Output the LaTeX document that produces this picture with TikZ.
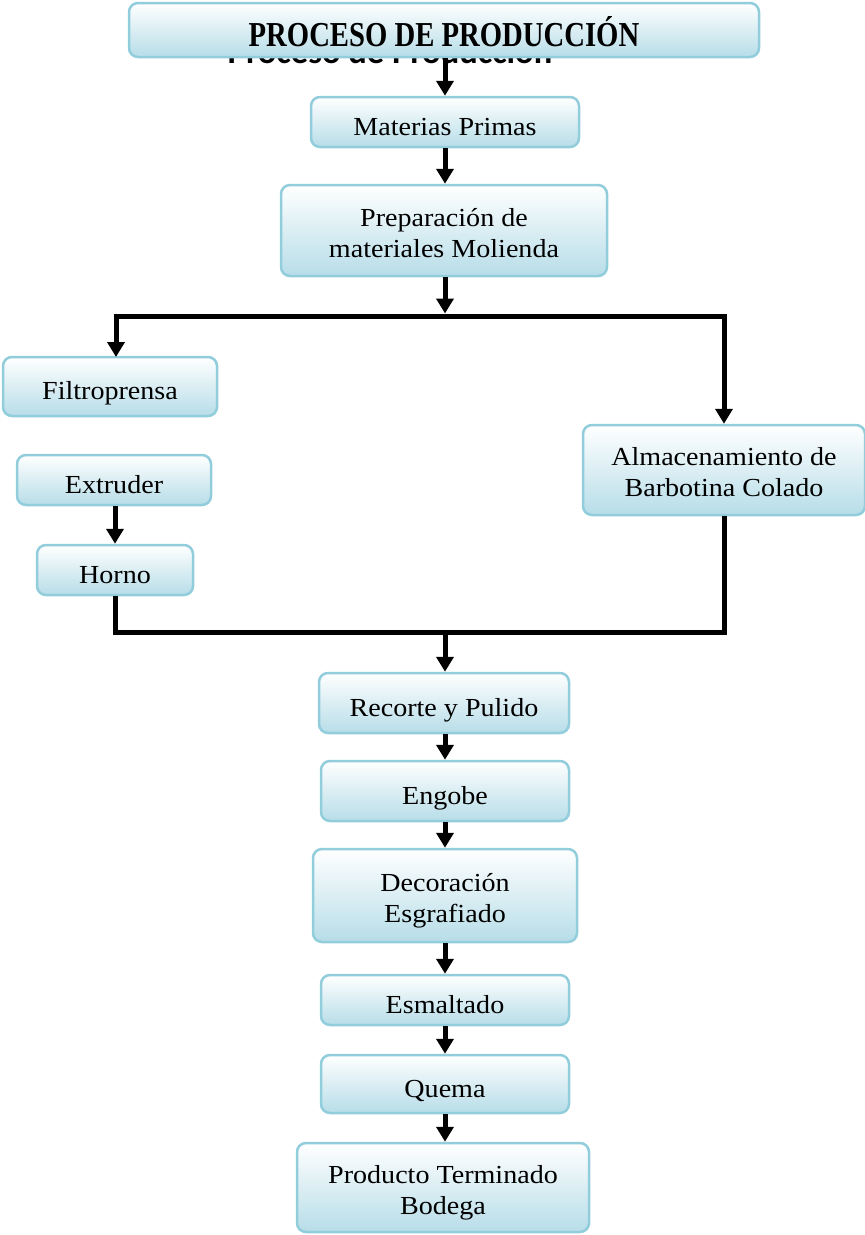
\documentclass[tikz,border=0pt]{standalone}
\usepackage{fontspec}
\setmainfont{Liberation Serif}[FakeStretch=1.08]
\newfontfamily\titlefont{Liberation Serif}[FakeStretch=0.82]
\newfontfamily\backfont{Carlito}
\usetikzlibrary{arrows.meta}
\definecolor{boxedge}{RGB}{146,205,220}
\definecolor{boxfill}{RGB}{183,221,232}
\begin{document}
\begin{tikzpicture}[x=1pt,y=-1pt,
  stepbox/.style={draw=boxedge, line width=2.5pt, rounded corners=9pt,
    top color=white, bottom color=boxfill, inner sep=0pt,
    align=center, font=\fontsize{26}{31}\selectfont,
    text height=27pt, text depth=0.4pt},
  twoline/.style={text height=53pt, text depth=0pt},
  flow/.style={line width=5pt, line join=miter},
  arr/.style={flow, -{Triangle[length=15pt,width=17pt]}}]
\useasboundingbox (0,0) rectangle (865,1235);

% text lying under the title bar
\node[font=\backfont\bfseries\fontsize{34.5}{40}\selectfont, anchor=base]
  (backtitle) at (390,63) {Proceso de Producción};

% title bar
\node[stepbox, minimum width=630pt, minimum height=54pt] (title) at (444,30) {};
\node[font=\titlefont\bfseries\fontsize{35}{40}\selectfont, anchor=base]
  (titletext) at (444,46.5) {PROCESO DE PRODUCCIÓN};

% main column
\node[stepbox, minimum width=268pt, minimum height=50pt] (mp)   at (445,122) {Materias Primas};
\node[stepbox, twoline, minimum width=326pt, minimum height=91pt] (prep) at (444,230.5) {Preparación de\\materiales Molienda};

% branches
\node[stepbox, minimum width=214pt, minimum height=59pt] (fil)  at (110,386.5) {Filtroprensa};
\node[stepbox, minimum width=194pt, minimum height=50pt] (ext)  at (114,480) {Extruder};
\node[stepbox, minimum width=156pt, minimum height=50pt] (hor)  at (115,570) {Horno};
\node[stepbox, twoline, minimum width=282pt, minimum height=90pt] (alm)  at (724,470) {Almacenamiento de\\Barbotina Colado};

% finishing steps
\node[stepbox, minimum width=250pt, minimum height=60pt] (rec)  at (444,703) {Recorte y Pulido};
\node[stepbox, minimum width=248pt, minimum height=60pt] (eng)  at (445,791) {Engobe};
\node[stepbox, twoline, minimum width=264pt, minimum height=93pt] (dec)  at (445,895.5) {Decoración\\Esgrafiado};
\node[stepbox, minimum width=248pt, minimum height=50pt] (esm)  at (445,1000) {Esmaltado};
\node[stepbox, minimum width=248pt, minimum height=58pt] (que)  at (445,1084) {Quema};
\node[stepbox, twoline, minimum width=292pt, minimum height=89pt] (prod) at (443,1187.5) {Producto Terminado\\Bodega};

% junction points
\coordinate (split) at (445,316);
\coordinate (merge) at (445,632);
\coordinate (filtop) at (116,357);

% connectors
\draw[arr] (mp.north |- title.south) -- (mp.north);
\draw[arr] (mp.south) -- (mp.south |- prep.north);
\draw[arr] (prep.south -| split) -- ([yshift=2.5pt]split);
\draw[arr] (split) -| (filtop);
\draw[arr] (split) -| (alm.north);
\draw[arr] (ext.south -| hor.north) -- (hor.north);
\draw[flow] (hor.south) |- (merge) -| (alm.south);
\draw[arr] (merge) -- (merge |- rec.north);
\draw[arr] (rec.south -| eng.north) -- (eng.north);
\draw[arr] (eng.south) -- (dec.north);
\draw[arr] (dec.south) -- (esm.north);
\draw[arr] (esm.south) -- (que.north);
\draw[arr] (que.south) -- (que.south |- prod.north);
\end{tikzpicture}
\end{document}
